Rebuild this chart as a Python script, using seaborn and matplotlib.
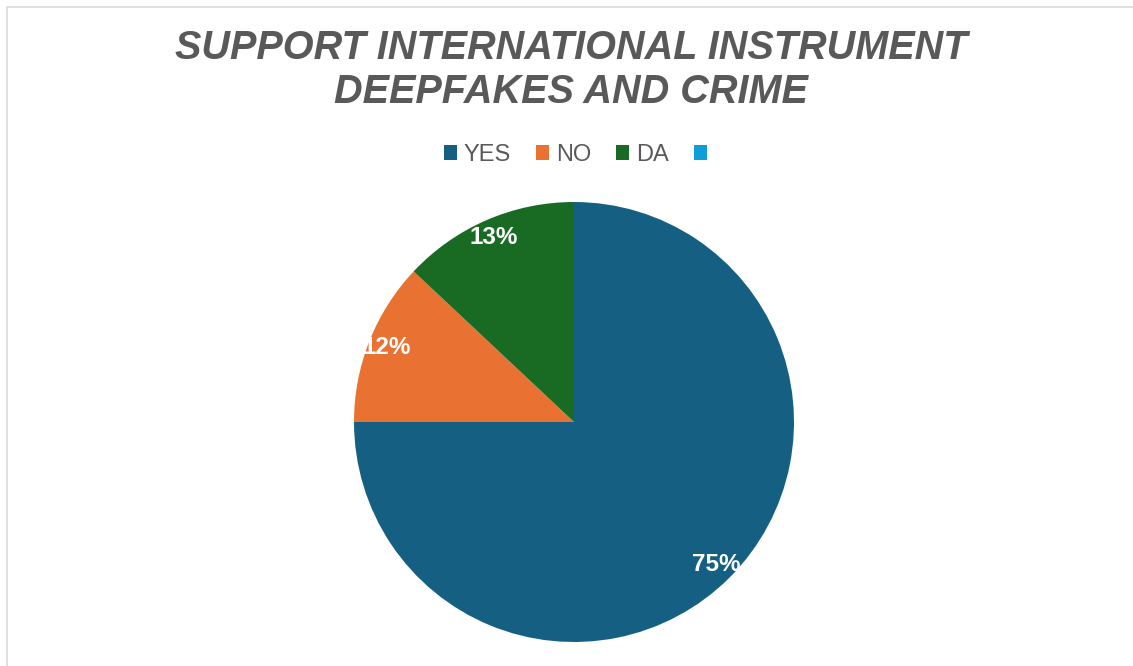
import matplotlib
matplotlib.use("Agg")
import matplotlib.pyplot as plt
from matplotlib.patches import Rectangle, Patch
import seaborn as sns

# Survey answers (share of respondents, %)
categories = ["YES", "NO", "DA", ""]
values = [75, 12, 13, 0]
colors = ["#156082", "#E97132", "#196B24", "#0F9ED5"]

title = "SUPPORT INTERNATIONAL INSTRUMENT\nDEEPFAKES AND CRIME"

sns.set_theme(style="white")
plt.rcParams["font.family"] = ["Liberation Sans", "DejaVu Sans"]
palette = sns.color_palette(colors)

W, H = 1133, 666
fig = plt.figure(figsize=(W / 100, H / 100), dpi=100)
fig.patch.set_facecolor("white")

# pie axes: centre (574, 422) px, radius 220 px
cx, cy, r = 574, 422, 220
pad = 20
ax = fig.add_axes([(cx - r - pad) / W, (H - cy - r - pad) / H,
                   2 * (r + pad) / W, 2 * (r + pad) / H])


def pct_label(p):
    return f"{p:.0f}%" if p > 0.5 else ""


wedges, _, autotexts = ax.pie(
    values, colors=palette, startangle=90, counterclock=False,
    autopct=pct_label, pctdistance=0.915, radius=1.0,
    wedgeprops=dict(linewidth=0),
    textprops=dict(color="white", fontsize=17.5, fontweight="bold"),
)
lim = (r + pad) / r
ax.set_xlim(-lim, lim)
ax.set_ylim(-lim, lim)
ax.set_aspect("equal")
ax.axis("off")

# title
fig.text(571 / W, 1 - 70 / H, title, ha="center", va="center",
         fontsize=28.5, fontweight="bold", fontstyle="italic",
         color="#595959", linespacing=1.19)

# legend
handles = [Patch(facecolor=c, edgecolor="none") for c in palette]
fig.legend(handles, categories, loc="center", bbox_to_anchor=(579 / W, 1 - 155 / H),
           ncol=4, frameon=False, fontsize=17, handlelength=0.56, handleheight=0.56,
           handletextpad=0.3, columnspacing=1.05, labelcolor="#595959")

# chart frame
fig.add_artist(Rectangle((6.5 / W, -0.1), 1.2, (H - 6.5) / H + 0.1,
                         transform=fig.transFigure, fill=False,
                         edgecolor="#d9d9d9", linewidth=1.2))

fig.savefig("out.png", dpi=100, facecolor="white")
